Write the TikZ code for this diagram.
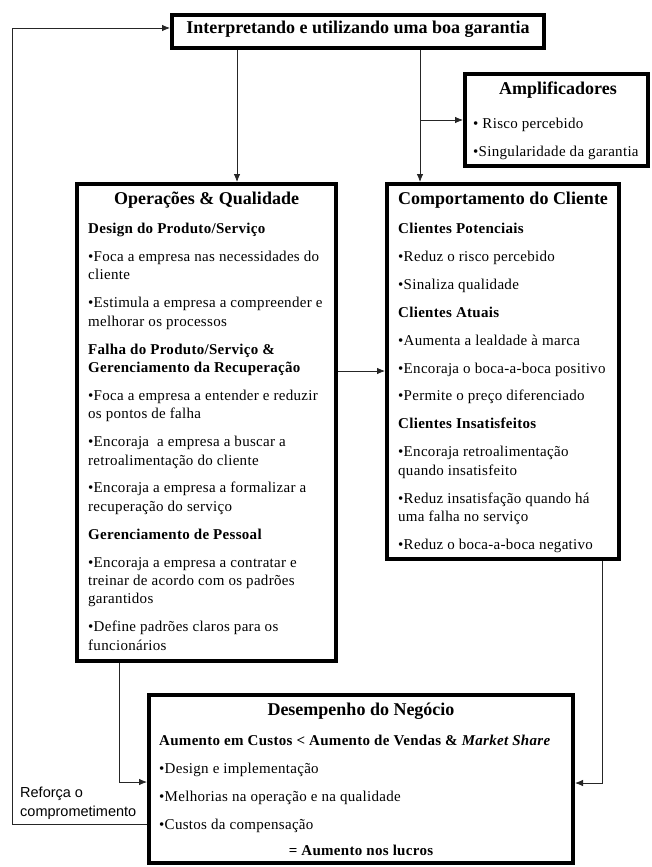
\documentclass[tikz,border=0pt]{standalone}
\usepackage{fontspec}
\setmainfont{Liberation Serif}
\setsansfont{Liberation Sans}
\newfontfamily\bodyfont[LetterSpace=2]{Liberation Serif}
\usetikzlibrary{arrows.meta}

\begin{document}
\begin{tikzpicture}[x=1pt, y=-1pt, >={Latex[length=8pt,width=6.5pt]},
  box/.style={draw, line width=4pt, inner sep=0pt},
  link/.style={->, line width=0.8pt, black!85},
  title/.style={font=\fontsize{18}{22}\selectfont\bfseries, inner sep=0pt, anchor=mid},
  body/.style={font=\bodyfont\fontsize{15}{18.4}\selectfont, align=left, inner sep=0pt, anchor=north west}]
  \useasboundingbox (0,0) rectangle (652,867);

  % Boxes
  \node[box, minimum width=372pt, minimum height=33pt] (guar) at (358,31.5) {};
  \node[box, minimum width=183pt, minimum height=92pt] (amp) at (556.5,120) {};
  \node[box, minimum width=259pt, minimum height=477pt] (ops) at (206.5,422.5) {};
  \node[box, minimum width=232pt, minimum height=375pt] (comp) at (503,371.5) {};
  \node[box, minimum width=424pt, minimum height=168pt] (des) at (361,779) {};

  % Titles
  \node[title] (guarT) at (358,31.5) {Interpretando e utilizando uma boa garantia};
  \node[title] (ampT) at (558,92) {Amplificadores};
  \node[title] (opsT) at (206.5,202) {Operações \& Qualidade};
  \node[title] (compT) at (503,202) {Comportamento do Cliente};
  \node[title] (desT) at (361,713) {Desempenho do Negócio};

  % Texts
  \node[body] (ampB) at (473,115.5) {\strut• Risco percebido\\[9.5pt]
    •Singularidade da garantia};
  \node[body] (opsB) at (88,220.5) {\strut\textbf{Design do Produto/Serviço}\\[9.5pt]
    •Foca a empresa nas necessidades do\\
    cliente\\[9.5pt]
    •Estimula a empresa a compreender e\\
    melhorar os processos\\[9.5pt]
    \textbf{Falha do Produto/Serviço \&}\\
    \textbf{Gerenciamento da Recuperação}\\[9.5pt]
    •Foca a empresa a entender e reduzir\\
    os pontos de falha\\[9.5pt]
    •Encoraja\ \ a empresa a buscar a\\
    retroalimentação do cliente\\[9.5pt]
    •Encoraja a empresa a formalizar a\\
    recuperação do serviço\\[9.5pt]
    \textbf{Gerenciamento de Pessoal}\\[9.5pt]
    •Encoraja a empresa a contratar e\\
    treinar de acordo com os padrões\\
    garantidos\\[9.5pt]
    •Define padrões claros para os\\
    funcionários};
  \node[body] (compB) at (398,220.5) {\strut\textbf{Clientes Potenciais}\\[9.5pt]
    •Reduz o risco percebido\\[9.5pt]
    •Sinaliza qualidade\\[9.5pt]
    \textbf{Clientes Atuais}\\[9.5pt]
    •Aumenta a lealdade à marca\\[9.5pt]
    •Encoraja o boca-a-boca positivo\\[9.5pt]
    •Permite o preço diferenciado\\[9.5pt]
    \textbf{Clientes Insatisfeitos}\\[9.5pt]
    •Encoraja retroalimentação\\
    quando insatisfeito\\[9.5pt]
    •Reduz insatisfação quando há\\
    uma falha no serviço\\[9.5pt]
    •Reduz o boca-a-boca negativo};
  \node[body] (desB) at (159,732.5) {\strut\textbf{Aumento em Custos < Aumento de Vendas \& \textit{Market Share}}\\[9.5pt]
    •Design e implementação\\[9.5pt]
    •Melhorias na operação e na qualidade\\[9.5pt]
    •Custos da compensação};
  \node[title, font=\bodyfont\fontsize{15}{18.4}\selectfont\bfseries] (desR) at (361,853) {= Aumento nos lucros};
  \node[body, font=\sffamily\fontsize{14.5}{19}\selectfont] (reforca) at (20,783.5) {\strut Reforça o\\comprometimento};

  % Connectors
  \coordinate (colL) at (237,0);
  \coordinate (colR) at (420,0);
  \coordinate (split) at (420,120);
  \coordinate (across) at (0,371);
  \coordinate (downL) at (119,782);
  \coordinate (downR) at (602,783);
  \coordinate (fbB) at (12,824);
  \coordinate (fbT) at (12,28);
  \draw[link] (guar.south -| colL) -- (ops.north -| colL);
  \draw[link] (guar.south -| colR) -- (comp.north -| colR);
  \draw[link] (split) -- (amp.west |- split);
  \draw[link] (ops.east |- across) -- (comp.west |- across);
  \draw[link] (ops.south -| downL) |- (des.west |- downL);
  \draw[link] (comp.south -| downR) |- (des.east |- downR);

  % Feedback loop
  \draw[link] (des.west |- fbB) -- (fbB) -- (fbT) -- (guar.west |- fbT);
\end{tikzpicture}
\end{document}
